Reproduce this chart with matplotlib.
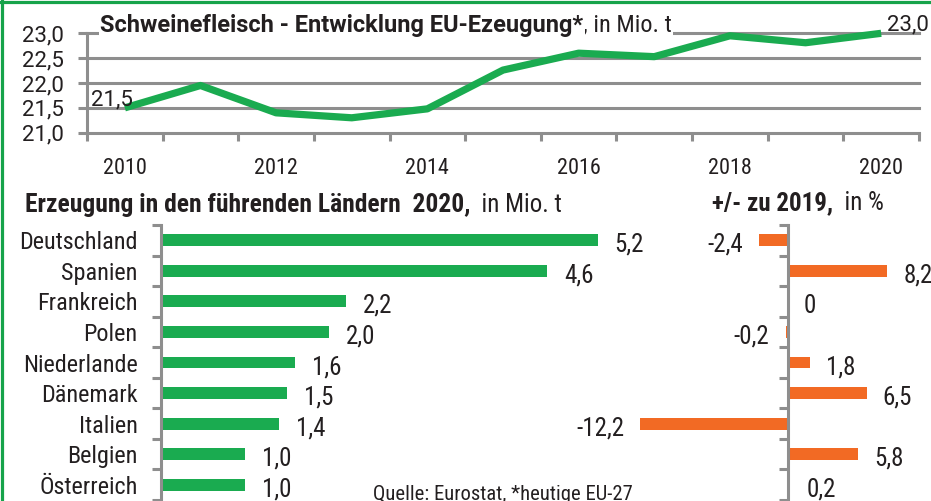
import matplotlib
matplotlib.use("Agg")
import matplotlib.pyplot as plt
from matplotlib.lines import Line2D
import numpy as np

# ---------------- data ----------------
years = [2010, 2011, 2012, 2013, 2014, 2015, 2016, 2017, 2018, 2019, 2020]
eu_production = [21.5, 21.95, 21.4, 21.3, 21.48, 22.26, 22.6, 22.53, 22.95, 22.81, 23.0]
year_labels = [2010, 2012, 2014, 2016, 2018, 2020]
y_ticks = [21.0, 21.5, 22.0, 22.5, 23.0]

countries = ["Deutschland", "Spanien", "Frankreich", "Polen", "Niederlande",
             "Dänemark", "Italien", "Belgien", "Österreich"]
production_2020 = [5.2, 4.6, 2.2, 2.0, 1.6, 1.5, 1.4, 1.0, 1.0]
change_2019 = [-2.4, 8.2, 0.0, -0.2, 1.8, 6.5, -12.2, 5.8, 0.2]

# ---------------- style ----------------
GREEN = "#1aab50"
ORANGE = "#f26a24"
GREY = "#8e8e8e"
TXT = "#231f20"
BORDER = "#16a34a"
COND = ['Roboto Condensed', 'DejaVu Sans']
WIDE = ['Roboto', 'DejaVu Sans']

plt.rcParams['font.family'] = COND
plt.rcParams['text.color'] = TXT

W, H = 931, 501
fig = plt.figure(figsize=(W / 100, H / 100), dpi=100)


def rect(x0, y0, x1, y1):
    return [x0 / W, 1 - y1 / H, (x1 - x0) / W, (y1 - y0) / H]


def de(v, zero_plain=False):
    if zero_plain and v == 0:
        return "0"
    return f"{v:.1f}".replace(".", ",")


# ---------------- top line chart ----------------
ax1 = fig.add_axes(rect(87, 33.3, 919, 132.7))
ax1.patch.set_alpha(0)
xs = np.arange(len(years))
ax1.set_xlim(-0.5, len(years) - 0.5)
ax1.set_ylim(y_ticks[0], y_ticks[-1])
for v in y_ticks[1:]:
    ax1.axhline(v, color=GREY, lw=2.2, clip_on=False, zorder=1)
ax1.plot(xs, eu_production, color=GREEN, lw=5.2, zorder=3,
         solid_capstyle='butt', solid_joinstyle='round', clip_on=False)
for s in ['top', 'right']:
    ax1.spines[s].set_visible(False)
for s in ['left', 'bottom']:
    ax1.spines[s].set_color(GREY)
    ax1.spines[s].set_linewidth(2.2)
ax1.set_yticks(y_ticks)
ax1.set_yticklabels([de(v) for v in y_ticks], family=WIDE)
ax1.tick_params(axis='y', length=6.5, width=2.2, color=GREY, pad=10.5,
                labelsize=16, labelcolor=TXT)
ax1.set_xticks([years.index(y) for y in year_labels])
ax1.set_xticklabels([str(y) for y in year_labels])
ax1.set_xticks(np.arange(-0.5, len(years)), minor=True)
ax1.tick_params(axis='x', which='major', length=0, pad=18.5, labelsize=16,
                labelcolor=TXT)
ax1.tick_params(axis='x', which='minor', length=5.8, width=2.2, color=GREY)

ax1.annotate(de(eu_production[0]), (xs[0], eu_production[0]), xytext=(5.5, 7.5),
             textcoords='offset points', ha='right', va='center_baseline',
             fontsize=16, family=WIDE, zorder=5)
ax1.annotate(de(eu_production[-1]), (xs[-1], eu_production[-1]), xytext=(4.5, 7.5),
             textcoords='offset points', ha='left', va='center_baseline',
             fontsize=16, family=WIDE, zorder=5, annotation_clip=False)

t1 = fig.text(100 / W, 1 - 32 / H, "Schweinefleisch - Entwicklung EU-Ezeugung*",
              fontsize=17, fontweight='bold', family=WIDE, ha='left', va='baseline',
              bbox=dict(facecolor='white', edgecolor='none', pad=1))
ax1.annotate(", in Mio. t", xy=(1, 0), xycoords=t1, ha='left', va='bottom',
             fontsize=17.5, annotation_clip=False,
             bbox=dict(facecolor='white', edgecolor='none', pad=1), zorder=6)

# ---------------- bottom left: production by country ----------------
ax2 = fig.add_axes(rect(161, 225, 700, 500))
ax2.patch.set_alpha(0)
ys = np.arange(len(countries))
ax2.barh(ys, production_2020, height=0.39, color=GREEN, zorder=2)
ax2.set_ylim(len(countries) - 0.5, -0.5)
ax2.set_xlim(0, (700 - 161) / 84)
for s in ['top', 'right', 'bottom']:
    ax2.spines[s].set_visible(False)
ax2.spines['left'].set_color(GREY)
ax2.spines['left'].set_linewidth(2.2)
ax2.spines['left'].set_zorder(3)
ax2.set_xticks([])
ax2.set_yticks(ys)
ax2.set_yticklabels(countries)
ax2.set_yticks(np.arange(-0.5, len(countries)), minor=True)
ax2.tick_params(axis='y', which='major', length=0, pad=16.8, labelsize=17.4,
                labelcolor=TXT)
ax2.tick_params(axis='y', which='minor', length=6.5, width=2.2, color=GREY)
for y, v in zip(ys, production_2020):
    ax2.annotate(de(v), (v, y), xytext=(12.2, -1.5), textcoords='offset points',
                 ha='left', va='center_baseline', fontsize=18)

tb = fig.text(25 / W, 1 - 212 / H, "Erzeugung in den führenden Ländern  2020,",
              fontsize=18.4, fontweight='bold', ha='left', va='baseline')
ax2.annotate("  in Mio. t", xy=(1, 0), xycoords=tb, ha='left', va='bottom',
             fontsize=18, annotation_clip=False)

# ---------------- bottom right: change vs 2019 ----------------
ax3 = fig.add_axes(rect(560, 225, 931, 500))
ax3.patch.set_alpha(0)
ax3.barh(ys, change_2019, height=0.39, color=ORANGE, zorder=2)
ax3.set_ylim(len(countries) - 0.5, -0.5)
ax3.set_xlim((560 - 788) / 12.1, (931 - 788) / 12.1)
for s in ['top', 'right', 'bottom']:
    ax3.spines[s].set_visible(False)
ax3.spines['left'].set_position(('data', 0))
ax3.spines['left'].set_color(GREY)
ax3.spines['left'].set_linewidth(2.2)
ax3.spines['left'].set_zorder(3)
ax3.set_xticks([])
ax3.set_yticks([])
ax3.set_yticks(np.arange(-0.5, len(countries)), minor=True)
ax3.tick_params(axis='y', which='minor', length=6.5, width=2.2, color=GREY)
for y, v in zip(ys, change_2019):
    if v >= 0:
        ax3.annotate(de(v, True), (v, y), xytext=(11.5, -1.5), textcoords='offset points',
                     ha='left', va='center_baseline', fontsize=18, annotation_clip=False)
    else:
        ax3.annotate(de(v), (v, y), xytext=(-11.5, -1.5), textcoords='offset points',
                     ha='right', va='center_baseline', fontsize=18)

tr = fig.text(712 / W, 1 - 210 / H, "+/- zu 2019,", fontsize=18, fontweight='bold',
              ha='left', va='baseline')
ax3.annotate("  in %", xy=(1, 0), xycoords=tr, ha='left', va='bottom',
             fontsize=18, annotation_clip=False)

# ---------------- source & frame ----------------
fig.text(373 / W, 1 - 500 / H, "Quelle: Eurostat, *heutige EU-27", fontsize=14.9,
         ha='left', va='baseline')
fig.add_artist(Line2D([0, 1], [1 - 1.5 / H, 1 - 1.5 / H], transform=fig.transFigure,
                      color=BORDER, lw=2.3))
fig.add_artist(Line2D([1.5 / W, 1.5 / W], [0, 1], transform=fig.transFigure,
                      color=BORDER, lw=2.3))

fig.savefig("out.png", dpi=100, facecolor='white')
